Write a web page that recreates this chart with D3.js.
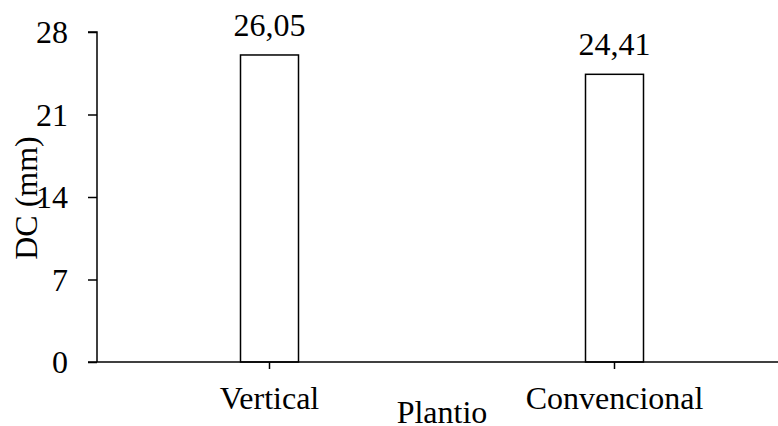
<!DOCTYPE html>
<html>
<head>
<meta charset="utf-8">
<script src="https://cdn.jsdelivr.net/npm/d3@7"></script>
<style>
  html, body { margin: 0; padding: 0; background: #fff; }
  svg { display: block; }
  text { font-family: "Liberation Serif", "Times New Roman", serif; fill: #000; }
</style>
</head>
<body>
<svg id="chart" width="778" height="426"></svg>
<script>
// Stem diameter (DC) by planting method
const categories = ["Vertical", "Convencional"];
const values = [26.05, 24.41];
const yTicks = [0, 7, 14, 21, 28];
const valueLabels = ["26,05", "24,41"];

const W = 778, H = 426;
const margin = { left: 97, top: 32, bottom: 64 };
const plotRight = 787;
const FS = 32;
const SERIF = "'Liberation Serif', 'Times New Roman', serif";

const svg = d3.select("#chart");

const x = d3.scaleBand()
  .domain(categories)
  .range([margin.left, plotRight])
  .paddingInner(0)
  .paddingOuter(0);

const y = d3.scaleLinear()
  .domain([0, 28])
  .range([H - margin.bottom, margin.top]);

const barW = 58;

// bars
svg.append("g")
  .selectAll("rect")
  .data(values)
  .join("rect")
  .attr("x", (d, i) => x(categories[i]) + x.bandwidth() / 2 - barW / 2)
  .attr("y", d => y(d))
  .attr("width", barW)
  .attr("height", d => y(0) - y(d))
  .attr("fill", "#fff")
  .attr("stroke", "#000")
  .attr("stroke-width", 1.5);

// value labels
svg.append("g")
  .selectAll("text")
  .data(values)
  .join("text")
  .attr("x", (d, i) => x(categories[i]) + x.bandwidth() / 2)
  .attr("y", d => y(d) - 19)
  .attr("text-anchor", "middle")
  .attr("font-size", FS)
  .text((d, i) => valueLabels[i]);

// y axis
const yAxis = d3.axisLeft(y).tickValues(yTicks).tickSize(9).tickPadding(20).tickFormat(d3.format("d"));
const gy = svg.append("g").attr("transform", `translate(${margin.left},0)`).call(yAxis);
gy.select(".domain").attr("stroke", "#000").attr("stroke-width", 1.5).attr("d", `M0,${y(0)}V${y(28)}H-9`);
gy.selectAll(".tick line").attr("stroke", "#000").attr("stroke-width", 1.5);
gy.selectAll(".tick text").attr("font-size", FS).attr("font-family", SERIF).attr("fill", "#000").attr("dy", "0.33em");

// x axis
const xAxis = d3.axisBottom(x).tickSize(7).tickPadding(17);
const gx = svg.append("g").attr("transform", `translate(0,${y(0)})`).call(xAxis);
gx.select(".domain").attr("stroke", "#000").attr("stroke-width", 1.5).attr("d", `M${margin.left - 9},0H${plotRight}`);
gx.selectAll(".tick line").attr("stroke", "#000").attr("stroke-width", 1.5);
gx.selectAll(".tick text").attr("font-size", FS).attr("font-family", SERIF).attr("fill", "#000");

// axis titles
svg.append("text")
  .attr("x", 442)
  .attr("y", 423)
  .attr("text-anchor", "middle")
  .attr("font-size", FS)
  .text("Plantio");

svg.append("text")
  .attr("transform", `translate(37,198) rotate(-90)`)
  .attr("text-anchor", "middle")
  .attr("font-size", FS)
  .text("DC (mm)");
</script>
</body>
</html>
